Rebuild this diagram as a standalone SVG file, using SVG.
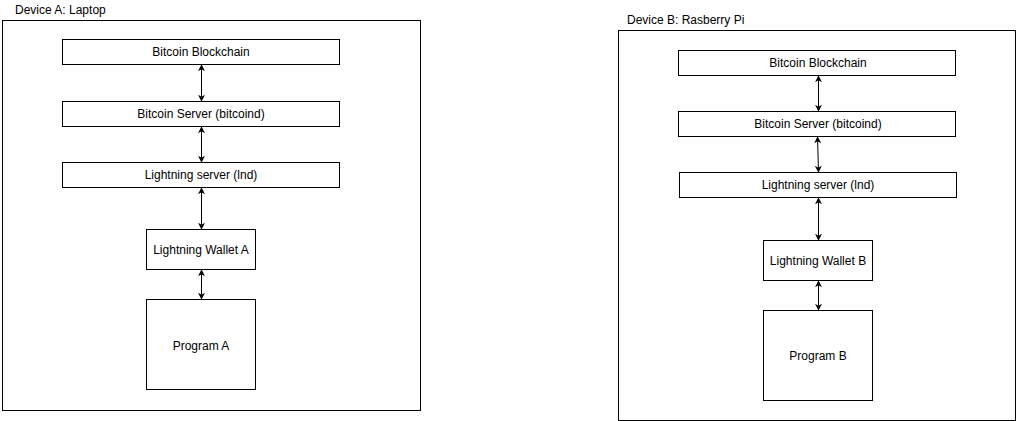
<svg xmlns="http://www.w3.org/2000/svg" width="1018" height="421" viewBox="0 0 1018 421">
<style>
.c{fill:#fff;stroke:#000;stroke-width:1}
.b{fill:#fff;stroke:#000;stroke-width:1}
.t{font-family:"Liberation Sans",Arial,sans-serif;font-size:12px;fill:#000;text-anchor:middle;dominant-baseline:central}
.lbl{font-family:"Liberation Sans",Arial,sans-serif;font-size:12px;fill:#000}
.e{stroke:#000;stroke-width:1;fill:none;marker-start:url(#a);marker-end:url(#a)}
</style>
<defs>
<marker id="a" viewBox="0 0 10 10" refX="9" refY="5" markerWidth="7" markerHeight="7" markerUnits="userSpaceOnUse" orient="auto-start-reverse">
<path d="M0,0 L10,5 L0,10 L3,5 Z" fill="#000"/>
</marker>
</defs>
<rect width="1018" height="421" fill="#fff"/>
<g id="deviceA">
<rect class="c" x="2.5" y="20.5" width="418" height="390"/>
<text class="lbl" x="15" y="14">Device A: Laptop</text>
</g>
<g id="deviceB">
<rect class="c" x="618.5" y="30.5" width="397" height="390"/>
<text class="lbl" x="627" y="24">Device B: Rasberry Pi</text>
</g>
<g id="a-blockchain"><rect class="b" x="62.5" y="39.5" width="277" height="25"/><text class="t" x="201" y="52">Bitcoin Blockchain</text></g>
<g id="a-server"><rect class="b" x="62.5" y="101.5" width="277" height="25"/><text class="t" x="201" y="114">Bitcoin Server (bitcoind)</text></g>
<g id="a-lnd"><rect class="b" x="62.5" y="162.5" width="277" height="25"/><text class="t" x="201" y="175">Lightning server (lnd)</text></g>
<g id="a-wallet"><rect class="b" x="146.5" y="229.5" width="109" height="40"/><text class="t" x="201" y="250">Lightning Wallet A</text></g>
<g id="a-program"><rect class="b" x="146.5" y="299.5" width="109" height="90"/><text class="t" x="201" y="346">Program A</text></g>
<g id="b-blockchain"><rect class="b" x="678.5" y="50.5" width="277" height="25"/><text class="t" x="818" y="63">Bitcoin Blockchain</text></g>
<g id="b-server"><rect class="b" x="678.5" y="111.5" width="277" height="25"/><text class="t" x="818" y="124">Bitcoin Server (bitcoind)</text></g>
<g id="b-lnd"><rect class="b" x="679.5" y="172.5" width="277" height="25"/><text class="t" x="818" y="185">Lightning server (lnd)</text></g>
<g id="b-wallet"><rect class="b" x="763.5" y="240.5" width="109" height="40"/><text class="t" x="818" y="261">Lightning Wallet B</text></g>
<g id="b-program"><rect class="b" x="763.5" y="310.5" width="109" height="90"/><text class="t" x="818" y="356">Program B</text></g>
<g id="connectors">
<line class="e" x1="201.5" y1="65" x2="201.5" y2="101"/>
<line class="e" x1="201.5" y1="127" x2="201.5" y2="162"/>
<line class="e" x1="201.5" y1="188" x2="201.5" y2="229"/>
<line class="e" x1="201.5" y1="270" x2="201.5" y2="299"/>
<line class="e" x1="818.5" y1="76" x2="818.5" y2="111"/>
<line class="e" x1="817.5" y1="137" x2="818.5" y2="172"/>
<line class="e" x1="818.5" y1="198" x2="818.5" y2="240"/>
<line class="e" x1="818.5" y1="281" x2="818.5" y2="310"/>
</g>
</svg>
